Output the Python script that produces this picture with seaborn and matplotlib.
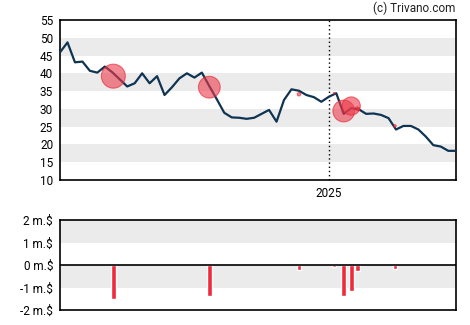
import numpy as np
import pandas as pd
import matplotlib
matplotlib.use("Agg")
import matplotlib.pyplot as plt
import matplotlib.dates as mdates
import seaborn as sns

sns.set_style("white")
plt.rcParams["font.family"] = ["Roboto", "DejaVu Sans"]

# Weekly closing prices
start_date = "2024-04-24"
prices = [45.9, 48.7, 43.1, 43.3, 40.7, 40.2, 41.9, 40.3, 38.3, 36.3,
          37.2, 40.0, 37.2, 39.2, 33.9, 36.1, 38.6, 40.0, 38.8, 40.2,
          36.4, 32.7, 28.9, 27.6, 27.5, 27.2, 27.5, 28.6, 29.7, 26.4,
          32.5, 35.5, 35.1, 33.9, 33.3, 32.0, 33.4, 34.4, 28.6, 30.2,
          29.9, 28.6, 28.7, 28.3, 27.4, 24.2, 25.2, 25.2, 24.2, 22.2,
          19.8, 19.4, 18.2, 18.2]

# Insider transactions (millions of dollars, sales negative)
trade_dates = ["2024-06-13", "2024-09-11", "2024-12-04", "2025-01-06",
               "2025-01-15", "2025-01-22", "2025-01-28", "2025-03-04"]
trade_values = [-1.50, -1.36, -0.21, -0.10, -1.36, -1.14, -0.25, -0.16]
trade_prices = [39.2, 36.1, 34.1, 34.4, 29.4, 30.8, 30.0, 25.2]

year_mark = "2025-01-01"

dates = pd.date_range(start_date, periods=len(prices), freq="7D")
df = pd.DataFrame({"date": dates, "price": prices})
tr = pd.DataFrame({"date": pd.to_datetime(trade_dates),
                   "value": trade_values, "price": trade_prices})

fig = plt.figure(figsize=(4.7, 3.25), dpi=100)
ax = fig.add_axes([0.1277, 0.4462, 0.8419, 0.4923])
ax2 = fig.add_axes([0.1277, 0.0462, 0.8419, 0.2760])

band = "#ebebeb"
line_col = "#0f3452"
red = "#ee2a3c"

# price panel
for lo in (15, 25, 35, 45):
    ax.axhspan(lo, lo + 5, color=band, lw=0, zorder=0)
ax.axvline(pd.Timestamp(year_mark), color="black", ls=(0, (1, 2)), lw=1, zorder=1)
sns.lineplot(data=df, x="date", y="price", ax=ax, color=line_col, lw=1.6, zorder=3)
radius_px = np.abs(tr["value"].to_numpy()) * 8.0
sizes = (2 * radius_px * 0.72) ** 2
sns.scatterplot(data=tr, x="date", y="price", ax=ax, s=sizes, color="#ec3a4a",
                alpha=0.6, edgecolor="#e8202f", linewidth=0.8, zorder=4, legend=False)
ax.set_xlim(dates[0], dates[-1])
ax.set_ylim(10, 55)
ax.set_yticks(range(10, 56, 5))
ax.set_xticks([pd.Timestamp(year_mark)])
ax.xaxis.set_major_formatter(mdates.DateFormatter("%Y"))
ax.set_xlabel("")
ax.set_ylabel("")

# transaction panel
ax2.axhspan(1, 2, color=band, lw=0, zorder=0)
ax2.axhspan(-1, 0, color=band, lw=0, zorder=0)
ax2.bar(tr["date"], tr["value"], width=4.4, color=red, zorder=2)
ax2.axhline(0, color="black", lw=1.2, zorder=3)
ax2.set_xlim(dates[0], dates[-1])
ax2.set_ylim(-2, 2)
ax2.set_yticks([-2, -1, 0, 1, 2])
ax2.set_yticklabels([f"{v} m.$" for v in [-2, -1, 0, 1, 2]])
ax2.set_xticks([])

for a in (ax, ax2):
    for s in a.spines.values():
        s.set_color("black")
        s.set_linewidth(1.2)
    a.tick_params(axis="both", direction="out", length=4, width=1,
                  labelsize=8.5, colors="black", pad=1)

fig.text(0.9696, 0.975, "(c) Trivano.com", ha="right", va="center",
         fontsize=8.5, color="#222222")

fig.savefig("out.png", dpi=100)
